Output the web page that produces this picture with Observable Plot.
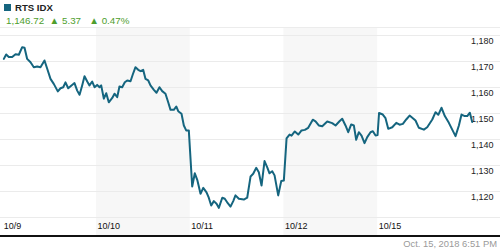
<!DOCTYPE html>
<html>
<head>
<meta charset="utf-8">
<script src="https://cdn.jsdelivr.net/npm/d3@7"></script>
<script src="https://cdn.jsdelivr.net/npm/@observablehq/plot@0.6"></script>
<style>
  body { margin: 0; background: #fff; font-family: "Liberation Sans", Arial, sans-serif; }
  #wrap { width: 500px; height: 250px; position: relative; overflow: hidden; }
  #hdr { height: 27px; border-bottom: 1px solid #ececec; position: relative; }
  #sq { position: absolute; left: 4px; top: 4px; width: 7px; height: 7px; background: #15657f; }
  #title { position: absolute; left: 15px; top: 2px; font-size: 9.6px; font-weight: bold; color: #222; line-height: 12px; }
  #quote { position: absolute; left: 6px; top: 14px; font-size: 9.8px; color: #4e9e2e; line-height: 13px; white-space: pre; }
  #axisline { height: 2px; background: #111; }
  #stamp { height: 13px; line-height: 13px; text-align: right; padding-right: 3px; font-size: 9.4px; color: #9a9a9a; }
  svg { display: block; }
</style>
</head>
<body>
<div id="wrap">
  <div id="hdr">
    <div id="sq"></div>
    <div id="title"></div>
    <div id="quote"></div>
  </div>
  <div id="chart"></div>
  <div id="axisline"></div>
  <div id="stamp"></div>
</div>
<script>
const seriesName = "RTS IDX";
const lastPrice = "1,146.72";
const change = "5.37";
const changePct = "0.47%";
const timestamp = "Oct. 15, 2018 6:51 PM";

const dayLabels = ["10/9", "10/10", "10/11", "10/12", "10/15"];
const yTicks = [1120, 1130, 1140, 1150, 1160, 1170, 1180];
const gridTicks = [1110, 1120, 1130, 1140, 1150, 1160, 1170, 1180];

// time in trading-day units (0 = open of 10/9)
const times = [
  0.011,0.036,0.064,0.100,0.136,0.171,0.207,0.232,0.260,0.296,0.331,0.367,0.402,0.445,0.474,0.509,0.544,0.587,0.616,0.645,
  0.669,0.698,0.733,0.765,0.794,0.819,0.847,0.872,0.901,0.925,0.954,0.979,1.007,1.032,1.050,1.078,1.104,1.131,1.168,1.192,
  1.221,1.245,1.274,1.302,1.328,1.363,1.387,1.416,1.445,1.470,1.498,1.523,1.552,1.576,1.612,1.640,1.672,1.701,1.736,1.765,
  1.790,1.825,1.851,1.872,1.907,1.932,1.957,1.985,2.021,2.049,2.075,2.110,2.139,2.174,2.198,2.224,2.252,2.281,2.305,2.342,
  2.369,2.401,2.430,2.459,2.483,2.519,2.572,2.608,2.644,2.672,2.704,2.732,2.761,2.793,2.822,2.846,2.875,2.900,2.939,2.971,
  2.999,3.028,3.060,3.081,3.116,3.153,3.188,3.223,3.259,3.308,3.337,3.372,3.409,3.462,3.515,3.551,3.593,3.622,3.657,3.686,
  3.718,3.746,3.771,3.799,3.828,3.860,3.889,3.924,3.949,3.978,3.999,4.015,4.055,4.084,4.113,4.156,4.199,4.234,4.269,4.305,
  4.341,4.376,4.404,4.440,4.493,4.529,4.583,4.618,4.647,4.682,4.717,4.760,4.796,4.831,4.867,4.895,4.930,4.956,4.984,5.009
];
const values = [
  1171.0,1172.7,1171.7,1171.7,1172.8,1172.6,1175.5,1175.3,1171.0,1169.7,1167.8,1168.1,1167.8,1170.4,1167.2,1163.3,1161.4,1158.5,1159.7,1160.1,
  1162.0,1159.7,1160.8,1161.7,1158.8,1157.2,1160.8,1164.3,1162.3,1160.8,1162.3,1160.1,1161.0,1160.1,1160.8,1155.7,1157.8,1154.3,1156.0,1157.6,
  1156.3,1160.4,1160.1,1162.0,1162.7,1162.4,1165.0,1167.8,1166.8,1166.3,1166.8,1163.3,1162.7,1160.8,1159.1,1158.0,1160.1,1158.6,1157.6,1154.3,
  1151.4,1151.4,1152.7,1150.9,1149.9,1145.4,1143.5,1143.5,1121.9,1127.0,1124.5,1119.1,1121.4,1119.7,1117.6,1114.6,1116.3,1115.3,1113.7,1117.6,
  1117.2,1115.5,1114.2,1116.3,1118.5,1117.2,1116.9,1117.6,1125.8,1126.8,1129.1,1127.4,1122.3,1131.7,1129.3,1127.0,1127.8,1126.2,1118.5,1124.0,
  1124.2,1140.4,1141.9,1141.5,1143.1,1141.9,1143.5,1143.7,1144.5,1147.6,1147.0,1145.4,1145.1,1146.9,1146.3,1145.4,1147.0,1148.0,1145.4,1142.8,
  1145.8,1145.4,1139.9,1142.8,1141.5,1138.6,1140.9,1142.8,1143.2,1141.5,1141.7,1150.2,1149.6,1148.2,1144.1,1144.7,1146.4,1145.7,1146.0,1147.7,
  1149.2,1148.2,1147.3,1144.5,1143.8,1144.7,1147.7,1150.5,1149.5,1152.2,1149.0,1146.4,1143.8,1141.3,1145.4,1149.6,1149.0,1149.0,1150.3,1146.7
];

const days = dayLabels.map((label, i) => ({label, start: i, end: i + 1, shaded: i % 2 === 1}));
const points = times.map((t, i) => ({t, v: values[i]}));

document.getElementById("title").textContent = seriesName;
document.getElementById("quote").textContent = `${lastPrice}  \u25B2 ${change}   \u25B2 ${changePct}`;
document.getElementById("stamp").textContent = timestamp;

const chart = Plot.plot({
  width: 500,
  height: 207,
  marginTop: 0, marginBottom: 0, marginLeft: 0, marginRight: 0,
  style: {fontFamily: "'Liberation Sans', Arial, sans-serif", background: "transparent", overflow: "visible"},
  x: {domain: [-0.0245, 5.311], axis: null},
  y: {domain: [1103.077, 1182.692], axis: null},
  marks: [
    Plot.rect(days.filter(d => d.shaded), {x1: "start", x2: "end", fill: "#f7f7f7"}),
    Plot.ruleY(gridTicks, {stroke: "#ebebeb", strokeWidth: 1}),
    Plot.text(days, {x: "start", text: "label", frameAnchor: "bottom", dy: -7, dx: 1, textAnchor: "start", fontSize: 9, fill: "#111"}),
    Plot.text(yTicks, {y: d => d, text: d => d3.format(",")(d), frameAnchor: "right", textAnchor: "end", dx: -7, dy: 6, fontSize: 9, fill: "#222"}),
    Plot.line(points, {x: "t", y: "v", stroke: "#15657f", strokeWidth: 2, strokeLinejoin: "round", strokeLinecap: "round"})
  ]
});
document.getElementById("chart").appendChild(chart);
</script>
</body>
</html>
